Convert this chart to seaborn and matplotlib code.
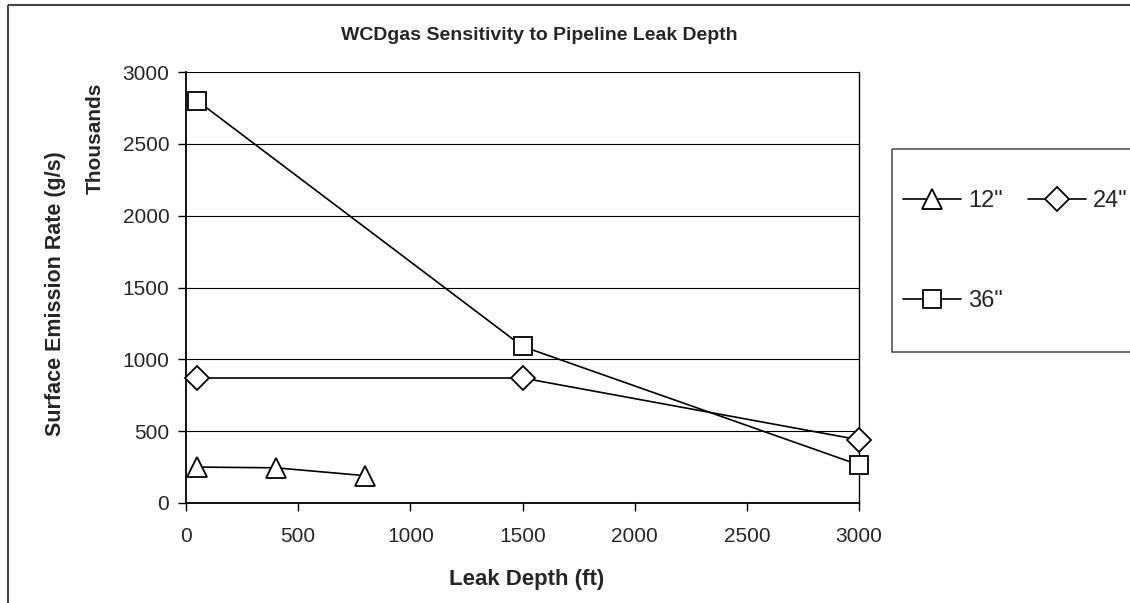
import matplotlib
matplotlib.use("Agg")
import matplotlib.pyplot as plt
import pandas as pd
import seaborn as sns
from matplotlib.patches import Rectangle

# data
depth_12 = [50, 400, 800]
rate_12 = [250, 245, 190]
depth_24 = [50, 1500, 3000]
rate_24 = [870, 870, 440]
depth_36 = [50, 1500, 3000]
rate_36 = [2800, 1090, 265]

series = [('12"', depth_12, rate_12, '^', 14),
          ('24"', depth_24, rate_24, 'D', 12.5),
          ('36"', depth_36, rate_36, 's', 13.5)]

sns.set_style("white")
plt.rcParams['font.family'] = ['Liberation Sans', 'DejaVu Sans']

W, H = 1130, 603
fig = plt.figure(figsize=(W / 100, H / 100), dpi=100)
ax = fig.add_axes([186 / W, 1 - 503 / H, (859 - 186) / W, (503 - 72) / H])

handles = {}
for name, xs, ys, mk, ms in series:
    df = pd.DataFrame({'depth': xs, 'rate': ys})
    sns.lineplot(data=df, x='depth', y='rate', ax=ax, color='black',
                 linewidth=1.2, marker=mk, markersize=ms,
                 markerfacecolor='white', markeredgecolor='black',
                 markeredgewidth=1.3, label=name, legend=False, zorder=3,
                 clip_on=False)
    handles[name] = ax.lines[-1]

ax.set_xlim(0, 3000)
ax.set_ylim(0, 3000)
ax.set_xticks(range(0, 3001, 500))
ax.set_yticks(range(0, 3001, 500))
ax.yaxis.grid(True, color='black', linewidth=0.8)
ax.set_axisbelow(True)
for side in ['left', 'bottom', 'right']:
    ax.spines[side].set_color('black')
    ax.spines[side].set_linewidth(1.0)
ax.spines['top'].set_visible(False)
ax.spines['left'].set_linewidth(1.3)
ax.spines['bottom'].set_linewidth(1.3)
ax.tick_params(axis='both', direction='out', length=6, width=1.0,
               color='black', labelsize=15, left=True, bottom=True)
ax.tick_params(axis='x', pad=11)
ax.tick_params(axis='y', pad=6)
ax.set_xlabel('')
ax.set_ylabel('')

fig.text(539 / W, 1 - 35 / H, 'WCDgas Sensitivity to Pipeline Leak Depth',
         ha='center', va='center', fontsize=14, fontweight='bold')
fig.text(527 / W, 1 - 579 / H, 'Leak Depth (ft)', ha='center', va='center',
         fontsize=16, fontweight='bold')
fig.text(55 / W, 1 - 294 / H, 'Surface Emission Rate (g/s)', ha='center',
         va='center', rotation=90, fontsize=15.5, fontweight='bold')
fig.text(95 / W, 1 - 138 / H, 'Thousands', ha='center', va='center',
         rotation=90, fontsize=15, fontweight='bold')

# legend box, clipped by the right edge like in the reference
fig.patches.append(Rectangle((892, H - 149), 400, -(352 - 149), transform=None,
                             fill=False, edgecolor='#555555', linewidth=1.2))
order = ['12"', '36"', '24"']
fig.legend([handles[k] for k in order], order, ncol=2,
           loc='upper left', bbox_to_anchor=(903 / W, 1 - 190 / H),
           fontsize=17, frameon=False,
           handlelength=2.45, handletextpad=0.3, columnspacing=1.06,
           labelspacing=3.3, borderpad=0, borderaxespad=0)

# outer chart border (clipped by the image edge on the right and bottom)
fig.patches.append(Rectangle((8, H - 5), W, -H, transform=None, fill=False,
                             edgecolor='#444444', linewidth=1.5))

fig.savefig('out.png', dpi=100)
